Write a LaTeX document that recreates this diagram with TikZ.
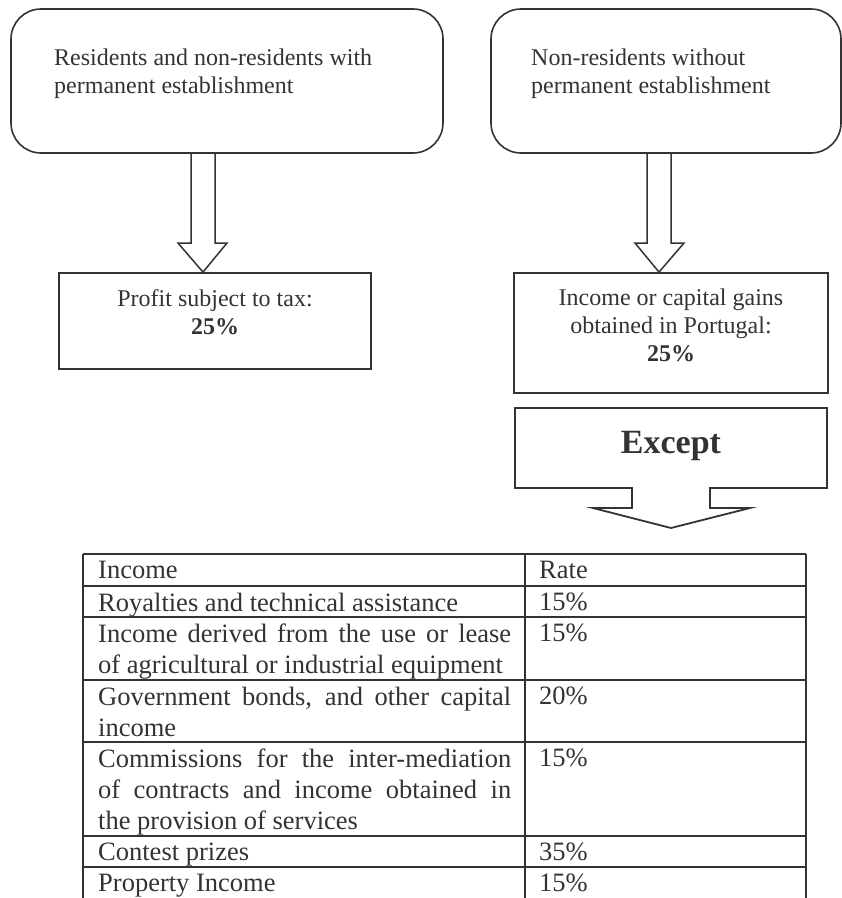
\documentclass[tikz,border=0pt]{standalone}
\usepackage{fontspec}
\setmainfont{Liberation Serif}
\usetikzlibrary{arrows}

\definecolor{ink}{HTML}{333333}
\newcommand{\boxfont}{\fontsize{24}{28}\selectfont}
\newcommand{\cellfont}{\fontsize{26.5}{31}\selectfont\hyphenpenalty=10000\exhyphenpenalty=10000}

\begin{document}
\begin{tikzpicture}[x=1pt, y=-1pt,
  every node/.style={text=ink, inner sep=0pt},
  rbox/.style={draw=ink, line width=1.6pt, rounded corners=30pt},
  sbox/.style={draw=ink, line width=1.8pt},
  note/.style={font=\boxfont, align=left, anchor=north west},
  mid/.style={font=\boxfont, align=center, anchor=north},
  cell/.style={font=\cellfont, text width=413pt, align=justify, anchor=north west},
  rate/.style={font=\cellfont, anchor=base west},
  hollow/.style={draw=ink, line width=1.5pt, line join=miter},
  grid/.style={draw=ink, line width=2.2pt}]
\useasboundingbox (0,0) rectangle (842,898);

% upper boxes
\node[rbox, minimum width=432pt, minimum height=144pt] (res) at (227,81) {};
\node[note] (restext) at (54,48.5) {Residents and non-residents with\\permanent establishment};
\node[rbox, minimum width=350pt, minimum height=144pt] (nonres) at (666,81) {};
\node[note] (nonrestext) at (531,48.5) {Non-residents without\\permanent establishment};

% rates
\node[sbox, minimum width=312pt, minimum height=96pt] (profit) at (215,321) {};
\node[mid] (profittext) at (215,289) {Profit subject to tax:\\\textbf{25\%}};
\node[sbox, minimum width=314pt, minimum height=120pt] (gains) at (671,333) {};
\node[mid] (gainstext) at (671,289) {Income or capital gains\\obtained in Portugal:\\\textbf{25\%}};

% block arrows
\draw[hollow] (191,0 |- res.south) -- (191,243) -- (178,243) -- (203,0 |- profit.north)
  -- (227,243) -- (215,243) -- (215,0 |- res.south);
\draw[hollow] (647,0 |- nonres.south) -- (647,243) -- (635,243) -- (659,0 |- gains.north)
  -- (684,243) -- (671,243) -- (671,0 |- nonres.south);

% except
\draw[hollow, line width=1.8pt] (515,408) -- (827,408) -- (827,488) -- (710,488) -- (710,508)
  -- (750,508) -- (671,528) -- (593,508) -- (632,508) -- (632,488) -- (515,488) -- cycle;
\node[font=\fontsize{34}{40}\selectfont\bfseries, anchor=base] (except) at (671,453) {Except};

% table
\foreach \y in {554,586,617,680,742,836,867}
  \draw[grid] (83,\y) -- (806,\y);
\foreach \x in {83,525,806}
  \draw[grid] (\x,554) -- (\x,898);

\node[cell] (c0) at (98,560.5) {Income};
\node[rate] (r0) at (539,578.5) {Rate};
\node[cell] (c1) at (98,592.5) {Royalties and technical assistance};
\node[rate] (r1) at (539,610.5) {15\%};
\node[cell] (c2) at (98,623.5) {Income derived from the use or lease\linebreak of agricultural or industrial equipment};
\node[rate] (r2) at (539,641.5) {15\%};
\node[cell] (c3) at (98,686.5) {Government bonds, and other capital\linebreak income};
\node[rate] (r3) at (539,704.5) {20\%};
\node[cell] (c4) at (98,748.5) {Commissions for the inter-mediation\linebreak of contracts and income obtained in\linebreak the provision of services};
\node[rate] (r4) at (539,766.5) {15\%};
\node[cell] (c5) at (98,842.5) {Contest prizes};
\node[rate] (r5) at (539,860.5) {35\%};
\node[cell] (c6) at (98,873.5) {Property Income};
\node[rate] (r6) at (539,891.5) {15\%};
\end{tikzpicture}
\end{document}
